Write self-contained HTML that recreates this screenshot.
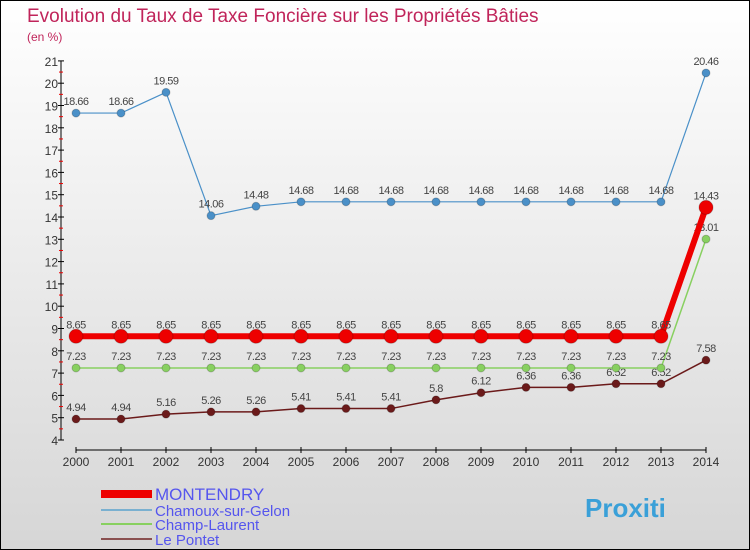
<!DOCTYPE html>
<html><head><meta charset="utf-8"><style>
body{margin:0}
#c{width:748px;height:548px;border:1px solid #000;background:linear-gradient(#fff,#d6d6d6);position:relative;font-family:"Liberation Sans",sans-serif}
</style></head><body>
<div id="c">
<svg id="s" width="748" height="548" style="position:absolute;left:0;top:0"></svg>
</div>
<script>
const years=[2000,2001,2002,2003,2004,2005,2006,2007,2008,2009,2010,2011,2012,2013,2014];
const montendry=[8.65,8.65,8.65,8.65,8.65,8.65,8.65,8.65,8.65,8.65,8.65,8.65,8.65,8.65,14.43];
const chamoux=[18.66,18.66,19.59,14.06,14.48,14.68,14.68,14.68,14.68,14.68,14.68,14.68,14.68,14.68,20.46];
const champ=[7.23,7.23,7.23,7.23,7.23,7.23,7.23,7.23,7.23,7.23,7.23,7.23,7.23,7.23,13.01];
const pontet=[4.94,4.94,5.16,5.26,5.26,5.41,5.41,5.41,5.8,6.12,6.36,6.36,6.52,6.52,7.58];
const yTicks=[4,5,6,7,8,9,10,11,12,13,14,15,16,17,18,19,20,21];
const s=document.getElementById('s');const NS='http://www.w3.org/2000/svg';
function X(i){return 75+i*45}
function Y(v){return 439-(v-4)*22.3}
function el(t,a,p){const e=document.createElementNS(NS,t);for(const k in a)e.setAttribute(k,a[k]);(p||s).appendChild(e);return e}
function tx(x,y,str,a){const e=el('text',Object.assign({x:x,y:y},a));e.textContent=str;return e}
let t=tx(26,21,'Evolution du Taux de Taxe Foncière sur les Propriétés Bâties',{fill:'#c0245a','font-size':19});

t=tx(26,40,'(en %)',{fill:'#c0245a','font-size':12});

let ax=el('line',{x1:60,y1:Y(4),x2:60,y2:Y(21),stroke:'#000'});

yTicks.forEach(v=>{el('line',{x1:57,x2:63,y1:Y(v),y2:Y(v),stroke:'#000'});
 if(v<21)el('line',{x1:58,x2:62,y1:Y(v+0.5),y2:Y(v+0.5),stroke:'#e00'});
 const l=tx(57,Y(v)+5,String(v),{'font-size':12,'text-anchor':'end',fill:'#333'});
 });
ax=el('line',{x1:X(0),y1:449,x2:X(14),y2:449,stroke:'#000'});

years.forEach((y,i)=>{el('line',{x1:X(i),x2:X(i),y1:446,y2:452,stroke:'#000'});
 const l=tx(X(i),465,String(y),{'font-size':12,'text-anchor':'middle',fill:'#333'});
 });
function series(vals,col,w,r,name,labCol){
 const g=el('g',{});
 el('polyline',{points:vals.map((v,i)=>X(i)+','+Y(v)).join(' '),fill:'none',stroke:col,'stroke-width':w},g);
 vals.forEach((v,i)=>{const c=el('circle',{cx:X(i),cy:Y(v),r:r,fill:col,stroke:'#0003'},g);
  
  const l=tx(X(i),Y(v)-8,String(v),{'font-size':11,'text-anchor':'middle',fill:'#444','letter-spacing':'-0.5'},g);
  });
}
series(pontet,'#6b1a1a',1.5,4,'le-pontet');
series(champ,'#88d060',1.5,4,'champ-laurent');
series(chamoux,'#4a90c8',1.2,4,'chamoux');
series(montendry,'#ee0000',6,7,'montendry');
const leg=[['MONTENDRY','#ee0000',8],['Chamoux-sur-Gelon','#7ab0d0',2],['Champ-Laurent','#88d060',2],['Le Pontet','#8a5050',2]];
const ly=[493,509,523,538];
leg.forEach((d,i)=>{const g=el('g',{});
 el('line',{x1:100,x2:151,y1:ly[i],y2:ly[i],stroke:d[1],'stroke-width':d[2]},g);
 tx(154,ly[i]+6,d[0],{'font-size':i==0?17:15,fill:'#5555ee'},g);});
const lg=tx(584,516,'Proxiti',{'font-size':26,'font-weight':'bold',fill:'#3aa0d8'});

</script></body></html>
